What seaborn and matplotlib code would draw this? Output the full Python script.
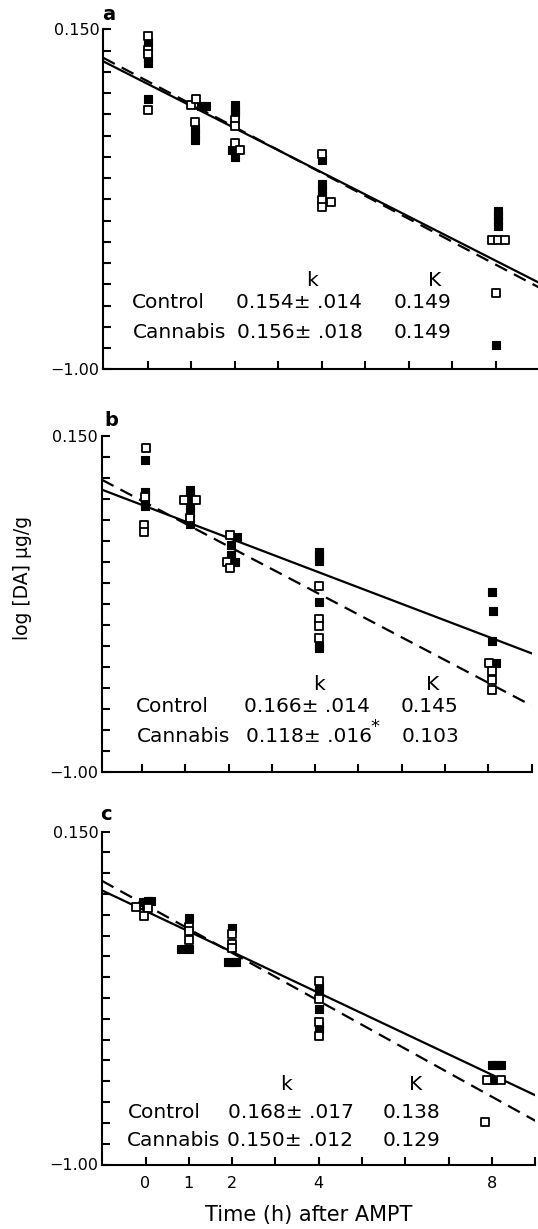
import numpy as np
import pandas as pd
import matplotlib
matplotlib.use("Agg")
import matplotlib.pyplot as plt
import seaborn as sns

# ---------------- data ----------------
# Panel a
a_ctrl_x = [0, 0, 0, 0, 0.99, 1.10, 1.08, 2.0, 2.0, 2.0, 2.12, 4.0, 4.0, 4.22, 4.0, 7.9, 8.05, 8.2, 8.0]
a_ctrl_y = [0.127, 0.080, 0.066, -0.123, -0.106, -0.086, -0.164, -0.158, -0.178, -0.235, -0.258,
            -0.272, -0.427, -0.434, -0.451, -0.563, -0.563, -0.563, -0.742]
a_cann_x = [0, 0, 0, 0, 0, 1.22, 1.33, 1.08, 1.08, 1.08, 2.0, 2.0, 2.0, 1.93, 2.0,
            4.0, 4.0, 4.0, 4.0, 8.05, 8.05, 8.05, 8.05, 8.0]
a_cann_y = [0.107, 0.090, 0.053, 0.036, -0.086, -0.109, -0.109, -0.184, -0.204, -0.224,
            -0.106, -0.122, -0.138, -0.258, -0.282, -0.292, -0.373, -0.393, -0.414,
            -0.465, -0.481, -0.498, -0.515, -0.918]
a_line_x = [-1.03, 9.0]
a_ctrl_line = [0.054, -0.724]
a_cann_line = [0.042, -0.708]

# Panel b
b_ctrl_x = [0.10, 0.07, 0.04, 0.04, 0.97, 1.25, 1.11, 2.03, 1.96, 2.03, 4.08, 4.08, 4.08, 4.08,
            8.02, 8.09, 8.09, 8.09]
b_ctrl_y = [0.111, -0.059, -0.156, -0.179, -0.068, -0.068, -0.130, -0.189, -0.281, -0.302,
            -0.363, -0.478, -0.501, -0.543, -0.627, -0.653, -0.684, -0.721]
b_cann_x = [0.08, 0.08, 0.08, 0.08, 0.08, 1.11, 1.11, 1.11, 1.11, 1.11, 1.11,
            2.19, 2.06, 2.06, 2.16, 4.08, 4.08, 4.08, 4.08, 4.08, 4.08, 8.09, 8.10, 8.09, 8.17]
b_cann_y = [0.067, -0.042, -0.050, -0.076, -0.088, -0.036, -0.060, -0.085, -0.110, -0.135, -0.151,
            -0.195, -0.223, -0.257, -0.281, -0.248, -0.262, -0.277, -0.417, -0.564, -0.575,
            -0.384, -0.449, -0.552, -0.627]
b_line_x = [-0.93, 9.0]
b_ctrl_line = [0.001, -0.773]
b_cann_line = [-0.033, -0.594]

# Panel c
c_ctrl_x = [-0.21, 0.05, -0.04, 1.0, 1.0, 1.0, 2.0, 2.0, 2.0, 4.0, 4.0, 4.0, 4.0, 7.88, 8.2, 7.84]
c_ctrl_y = [-0.110, -0.114, -0.142, -0.180, -0.192, -0.225, -0.205, -0.240, -0.253,
            -0.366, -0.429, -0.507, -0.555, -0.708, -0.708, -0.853]
c_cann_x = [-0.05, 0.06, 0.12, 0.0, 1.0, 0.83, 1.0, 2.0, 1.9, 2.0, 2.1, 4.0, 4.0, 4.0, 4.0, 4.0,
            8.0, 8.12, 8.21, 8.0]
c_cann_y = [-0.095, -0.091, -0.091, -0.102, -0.148, -0.257, -0.257, -0.182, -0.299, -0.299, -0.299,
            -0.383, -0.400, -0.463, -0.521, -0.532, -0.658, -0.658, -0.658, -0.708]
c_line_x = [-1.01, 9.0]
c_ctrl_line = [-0.020, -0.849]
c_cann_line = [-0.053, -0.761]

panel_letters = ["a", "b", "c"]
k_ctrl = ["0.154\u00b1 .014", "0.166\u00b1 .014", "0.168\u00b1 .017"]
k_cann = ["0.156\u00b1 .018", "0.118\u00b1 .016", "0.150\u00b1 .012"]
K_ctrl = ["0.149", "0.145", "0.138"]
K_cann = ["0.149", "0.103", "0.129"]
y_tick_labels = ["\u22121.00", "0.150"]
x_tick_values = [0, 1, 2, 3, 4, 5, 6, 7, 8, 9]
x_tick_labels = ["0", "1", "2", "", "4", "", "", "", "8", ""]

# ---------------- style ----------------
sns.set_style("ticks")
plt.rcParams["font.family"] = ["DejaVu Sans"]
plt.rcParams["text.color"] = "black"
plt.rcParams["axes.labelcolor"] = "black"
plt.rcParams["xtick.color"] = "black"
plt.rcParams["ytick.color"] = "black"
plt.rcParams["axes.edgecolor"] = "black"

W, H = 538, 1229
fig = plt.figure(figsize=(W / 100, H / 100), dpi=100)


def fx(x):
    return x / W


def fy(y):
    return 1 - y / H


# axes boxes in pixels: left, right, top, bottom
boxes = [(103.0, 539.5, 29.3, 369.3), (101.7, 531.6, 436.2, 771.8), (101.8, 535.3, 831.5, 1164.5)]

panels = [
    (a_ctrl_x, a_ctrl_y, a_cann_x, a_cann_y, a_line_x, a_ctrl_line, a_cann_line),
    (b_ctrl_x, b_ctrl_y, b_cann_x, b_cann_y, b_line_x, b_ctrl_line, b_cann_line),
    (c_ctrl_x, c_ctrl_y, c_cann_x, c_cann_y, c_line_x, c_ctrl_line, c_cann_line),
]

text_pos = [
    dict(ky=280, cy=303, ny=333, kx=311.6, Kx=435, lab=(131.8, 133), num=(235.6, 237), K=(393.8, 394)),
    dict(ky=685, cy=706.6, ny=736.7, kx=319, Kx=433, lab=(136.3, 137), num=(243.8, 245.9), K=(400.7, 401.4)),
    dict(ky=1084, cy=1112.3, ny=1140.5, kx=286, Kx=415.4, lab=(127.5, 126.8), num=(228, 227.2), K=(383, 383)),
]
letter_pos = [(109, 14), (111, 421), (105.5, 815)]

fs_txt = 14.5
for i, (box, pdat) in enumerate(zip(boxes, panels)):
    l, r, t, b = box
    ax = fig.add_axes([fx(l), fy(b), (r - l) / W, (b - t) / H])
    cx, cy, nx, ny, lx, lc, ln = pdat

    sns.lineplot(x=lx, y=ln, ax=ax, color="black", lw=1.6, errorbar=None, zorder=2)
    sns.lineplot(x=lx, y=lc, ax=ax, color="black", lw=1.6, errorbar=None,
                 linestyle=(0, (6, 3.5)), zorder=2)
    sns.scatterplot(x=nx, y=ny, ax=ax, marker="s", s=30, color="black",
                    edgecolor="black", linewidth=0.8, zorder=3)
    sns.scatterplot(x=cx, y=cy, ax=ax, marker="s", s=28, facecolor="white",
                    edgecolor="black", linewidth=1.3, zorder=4)

    ax.set_xlim(lx[0], 9.0)
    ax.set_ylim(-1.0, 0.15)
    ax.set_yticks(np.linspace(-1.0, 0.15, 17))
    ylabs = [""] * 17
    ylabs[0], ylabs[-1] = y_tick_labels
    ax.set_yticklabels(ylabs)
    ax.set_xticks(x_tick_values)
    if i == 2:
        ax.set_xticklabels(x_tick_labels)
    else:
        ax.set_xticklabels([""] * len(x_tick_values))
    ax.tick_params(axis="both", direction="in", length=6, width=1.5, color="black",
                   labelcolor="black")
    ax.tick_params(axis="y", labelsize=11.5, pad=2.5)
    ax.tick_params(axis="x", labelsize=11.5, pad=8)
    for s in ["top", "right"]:
        ax.spines[s].set_visible(False)
    for s in ["left", "bottom"]:
        ax.spines[s].set_linewidth(1.5)
        ax.spines[s].set_color("black")
    ax.set_xlabel("")
    ax.set_ylabel("")
    ax.patch.set_alpha(0)

    tp = text_pos[i]
    kw = dict(va="center", fontsize=fs_txt, color="black")
    fig.text(fx(tp["kx"]), fy(tp["ky"]), "k", ha="center", **kw)
    fig.text(fx(tp["Kx"]), fy(tp["ky"]), "K", ha="center", **kw)
    fig.text(fx(tp["lab"][0]), fy(tp["cy"]), "Control", ha="left", **kw)
    fig.text(fx(tp["lab"][1]), fy(tp["ny"]), "Cannabis", ha="left", **kw)
    fig.text(fx(tp["num"][0]), fy(tp["cy"]), k_ctrl[i], ha="left", **kw)
    fig.text(fx(tp["num"][1]), fy(tp["ny"]), k_cann[i], ha="left", **kw)
    fig.text(fx(tp["K"][0]), fy(tp["cy"]), K_ctrl[i], ha="left", **kw)
    fig.text(fx(tp["K"][1]), fy(tp["ny"]), K_cann[i], ha="left", **kw)
    if i == 1:
        fig.text(fx(375), fy(727), "*", ha="center", va="center", fontsize=13, color="black")

    lxp, lyp = letter_pos[i]
    fig.text(fx(lxp), fy(lyp), panel_letters[i], ha="center", va="center",
             fontsize=14, fontweight="bold", color="black")

fig.text(fx(309), fy(1215), "Time (h) after AMPT", ha="center", va="center", fontsize=15,
         color="black")
fig.text(fx(23), fy(578), "log [DA] \u00b5g/g", ha="center", va="center", fontsize=13.5,
         rotation=90, color="black")

fig.savefig("out.png", dpi=100, facecolor="white")
